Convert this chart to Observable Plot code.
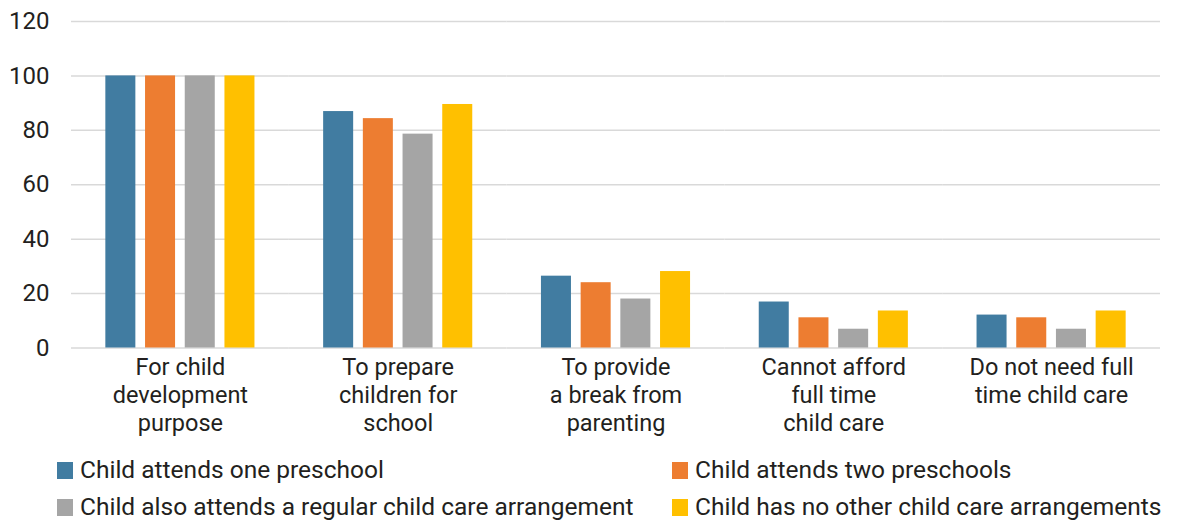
<!DOCTYPE html>
<html>
<head>
<meta charset="utf-8">
<script src="https://cdn.jsdelivr.net/npm/d3@7"></script>
<script src="https://cdn.jsdelivr.net/npm/@observablehq/plot@0.6"></script>
<style>
  body { margin: 0; background: #fff; font-family: Roboto, sans-serif; color: #231f20; overflow: hidden; }
  #chart svg { display: block; }
  .legend { display: grid; grid-template-columns: 615px 540px; padding-left: 57px; row-gap: 11px; margin-top: 5px; }
  .item { display: flex; align-items: center; font-size: 24.5px; height: 26px; line-height: 26px; white-space: nowrap; }
  .sw { width: 16px; height: 17px; margin-right: 7px; flex: none; }
</style>
</head>
<body>
<div id="chart"></div>
<div class="legend" id="legend"></div>
<script>
const categories = ["For child development purpose", "To prepare children for school", "To provide a break from parenting", "Cannot afford full time child care", "Do not need full time child care"];
const categoryLabels = ["For child\ndevelopment\npurpose", "To prepare\nchildren for\nschool", "To provide\na break from\nparenting", "Cannot afford\nfull time\nchild care", "Do not need full\ntime child care"];
const seriesNames = ["Child attends one preschool", "Child attends two preschools", "Child also attends a regular child care arrangement", "Child has no other child care arrangements"];
const onePreschool = [100, 86.9, 26.4, 16.9, 12.1];
const twoPreschools = [100, 84.3, 24.0, 11.1, 11.1];
const alsoRegularCare = [100, 78.6, 18.0, 6.9, 6.9];
const noOtherCare = [100, 89.5, 28.1, 13.6, 13.6];
const yTicks = [0, 20, 40, 60, 80, 100, 120];
const colors = ["#417ca1", "#ed7d31", "#a5a5a5", "#ffc000"];

const seriesValues = [onePreschool, twoPreschools, alsoRegularCare, noOtherCare];
const rows = [];
categories.forEach((c, i) => {
  seriesNames.forEach((s, j) => rows.push({category: c, series: s, value: seriesValues[j][i]}));
});
const labelRows = categories.map((c, i) => ({category: c, label: categoryLabels[i]}));

const plot = Plot.plot({
  width: 1185,
  height: 452,
  marginTop: 21,
  marginBottom: 104.5,
  marginLeft: 71,
  marginRight: 25,
  style: {fontFamily: "Roboto, sans-serif", fontSize: "23.5px", color: "#231f20", background: "#fff"},
  fx: {domain: categories, padding: 0, round: false, axis: null},
  x: {domain: seriesNames, paddingInner: 0.244, paddingOuter: 0.865, round: false, axis: null},
  y: {domain: [0, 120], ticks: yTicks, label: null},
  color: {domain: seriesNames, range: colors},
  marks: [
    Plot.ruleY(yTicks, {stroke: "#d9d9d9", strokeWidth: 1.5}),
    Plot.barY(rows, {fx: "category", x: "series", y: "value", fill: "series"}),
    Plot.axisY({ticks: yTicks, tickSize: 0, tickPadding: 22, fontSize: 24, label: null}),
    Plot.text(labelRows, {fx: "category", text: "label", frameAnchor: "bottom", lineAnchor: "top", dy: 7, lineHeight: 1.19, fontSize: 23.5, fill: "#231f20"})
  ]
});
document.getElementById("chart").appendChild(plot);

const legend = document.getElementById("legend");
[0, 1, 2, 3].forEach(i => {
  const item = document.createElement("div");
  item.className = "item";
  const sw = document.createElement("span");
  sw.className = "sw";
  sw.style.background = colors[i];
  const t = document.createElement("span");
  t.textContent = seriesNames[i];
  item.appendChild(sw);
  item.appendChild(t);
  legend.appendChild(item);
});
</script>
</body>
</html>
